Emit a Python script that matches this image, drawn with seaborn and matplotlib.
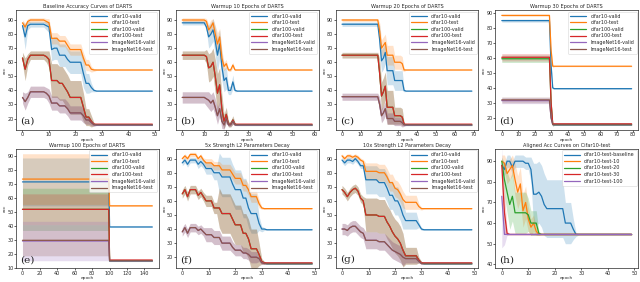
import numpy as np
import pandas as pd
import matplotlib
matplotlib.use("Agg")
import matplotlib.pyplot as plt
import seaborn as sns

# series names used in panels (a)-(g)
names = ["cifar10-valid", "cifar10-test", "cifar100-valid", "cifar100-test",
         "ImageNet16-valid", "ImageNet16-test"]
names_h = ["cifar10-test-baseline", "cifar10-test-10", "cifar10-test-20",
           "cifar10-test-30", "cifar10-test-100"]

# (a) baseline, 50 epochs
a_c10v = [86, 78, 86, 87, 87, 87, 87, 87, 87, 86, 85, 69, 70, 70, 65, 65, 65, 62, 60, 60, 60, 60, 60, 52, 45, 45, 42, 40] + [39.5] * 22
a_c10t = [88, 85, 89, 90, 90, 90, 90, 90, 90, 89, 88, 77, 77, 77, 75, 75, 75, 72, 69, 69, 69, 69, 69, 63, 58, 58, 55, 54.5] + [54.5] * 22
a_c100 = [63, 55, 62, 65, 65, 65, 65, 65, 65, 64, 62, 47, 47, 47, 45, 45, 42, 39, 35, 35, 35, 35, 35, 28, 21, 21, 18, 16]
a_c100v = a_c100 + [15.3] * 22
a_c100t = a_c100 + [16] * 22
a_img = [35, 32, 35, 39, 39, 39, 39, 39, 39, 38, 36, 31, 31, 31, 29, 29, 29, 27, 24, 24, 24, 24, 24, 22, 19, 19, 17, 15.5]
a_imgv = a_img + [15.3] * 22
a_imgt = a_img + [15.6] * 22
a_c10v_sd = [3, 9, 3] + [2] * 6 + [3, 4] + [8] * 12 + [10, 7, 7, 3, 1] + [0.3] * 22
a_c10t_sd = [2, 3, 2] + [1.5] * 6 + [2, 3] + [4] * 12 + [4, 4, 4, 2, 1] + [0.3] * 22
a_c100_sd = [4, 8, 4] + [3] * 6 + [4, 6] + [12] * 12 + [10, 6, 6, 4, 1] + [0.3] * 22
a_img_sd = [4, 6, 4] + [4] * 6 + [4, 5] + [5] * 12 + [5, 3, 3, 2, 1] + [0.3] * 22

# (b) warmup 10, 60 epochs
b_c10v = [88] * 11 + [85, 78, 80, 83, 75, 65, 73, 57, 47, 49, 40, 40, 46, 40] + [39.5] * 35
b_c10t = [90] * 11 + [89, 83, 85, 88, 80, 73, 78, 63, 57, 59, 54.5, 54.5, 58, 54.5] + [54.5] * 35
b_c100 = [65] * 11 + [64, 56, 57, 60, 50, 38, 44, 27, 18, 23, 16, 16, 19, 16]
b_c100v = b_c100 + [15.2] * 35
b_c100t = b_c100 + [16] * 35
b_img = [35] * 11 + [34, 33, 31, 33, 28, 22, 27, 18, 15.5, 20, 15.5, 15.5, 18, 15.5]
b_imgv = b_img + [15.3] * 35
b_imgt = b_img + [15.6] * 35
b_c10v_sd = [1.5] * 11 + [3, 8, 8, 8, 10, 12, 10, 10, 8, 8, 3, 3, 5, 1] + [0.3] * 35
b_c10t_sd = [1.5] * 11 + [2, 4, 5, 3, 6, 8, 6, 6, 3, 3, 1, 1, 2, 0.5] + [0.3] * 35
b_c100_sd = [3] * 11 + [5, 10, 10, 10, 12, 14, 12, 10, 5, 5, 2, 2, 3, 1] + [0.3] * 35
b_img_sd = [4] * 11 + [5, 6, 6, 6, 6, 6, 5, 5, 3, 3, 1, 1, 2, 0.5] + [0.3] * 35

# (c) warmup 20, 70 epochs
c_c10v = [87] * 20 + [76, 61, 63, 67, 54, 54, 54, 54, 47, 47, 47, 47, 47, 40] + [39.5] * 36
c_c10t = [90] * 20 + [82, 70, 72, 74, 65, 65, 65, 65, 60, 60, 60, 60, 59, 54.5] + [54.5] * 36
c_c100 = [65] * 20 + [52, 36, 39, 43, 28, 28, 28, 28, 22, 22, 22, 22, 21, 16]
c_c100v = c_c100 + [15.2] * 36
c_c100t = c_c100 + [16] * 36
c_img = [35.5] * 20 + [30, 22, 24, 27, 20, 20, 20, 20, 18, 18, 18, 18, 17, 15.5]
c_imgv = c_img + [15.3] * 36
c_imgt = c_img + [15.6] * 36
c_c10v_sd = [1.5] * 20 + [10, 8, 8, 8, 10, 10, 10, 10, 7, 7, 7, 7, 7, 1] + [0.3] * 36
c_c10t_sd = [1] * 20 + [6, 6, 6, 6, 7, 7, 7, 7, 5, 5, 5, 5, 5, 1] + [0.3] * 36
c_c100_sd = [2] * 20 + [10, 10, 10, 10, 12, 12, 12, 12, 6, 6, 6, 6, 6, 1] + [0.3] * 36
c_img_sd = [2.5] * 20 + [5, 5, 5, 5, 4, 4, 4, 4, 3, 3, 3, 3, 3, 1] + [0.3] * 36

# (d) warmup 30, 80 epochs
d_c10v = [85] * 30 + [55, 40] + [39.5] * 48
d_c10t = [88.5] * 30 + [65, 54.5] + [54.5] * 48
d_c100v = [59.5] * 30 + [30, 15.5] + [15.2] * 48
d_c100t = [60.5] * 30 + [30, 16] + [16] * 48
d_imgv = [31.5] * 30 + [20, 15.5] + [15.3] * 48
d_imgt = [32] * 30 + [20, 15.5] + [15.6] * 48
d_c10v_sd = [1] * 30 + [2, 1] + [0.3] * 48
d_c10t_sd = [0.6] * 30 + [2, 1] + [0.3] * 48
d_c100_sd = [2.5] * 30 + [3, 1] + [0.3] * 48
d_img_sd = [2] * 30 + [2, 1] + [0.3] * 48

# (e) warmup 100, 150 epochs
e_c10v = [71.5] * 100 + [39.5] * 50
e_c10t = [73.5] * 100 + [54.5] * 50
e_c100v = [52] * 100 + [15.2] * 50
e_c100t = [52] * 100 + [16] * 50
e_imgv = [29.5] * 100 + [15.3] * 50
e_imgt = [30] * 100 + [15.6] * 50
e_c10v_sd = [17] * 100 + [0.3] * 50
e_c10t_sd = [18] * 100 + [0.3] * 50
e_c100v_sd = [15] * 100 + [0.3] * 50
e_c100t_sd = [11] * 100 + [0.3] * 50
e_imgv_sd = [14] * 100 + [0.3] * 50
e_imgt_sd = [11] * 100 + [0.3] * 50

# (f) 5x L2, 50 epochs
f_c10v = [87, 89, 86, 89, 89, 89, 86, 88, 86, 83, 83, 83, 80, 80, 80, 77, 77, 77, 77, 72, 68, 68, 68, 62, 62, 55, 51, 51, 51, 44, 40, 40] + [39.5] * 18
f_c10t = [90, 92, 90, 93, 93, 93, 90, 92, 89, 87, 87, 87, 85, 85, 85, 82, 82, 82, 82, 79, 76, 76, 76, 71, 71, 68, 63, 63, 63, 58, 55, 54.5] + [54.5] * 18
f_c100 = [65, 68, 63, 68, 68, 68, 64, 66, 63, 60, 60, 60, 55, 55, 55, 51, 51, 51, 51, 47, 43, 43, 43, 37, 37, 33, 26, 26, 26, 22, 17, 16]
f_c100v = f_c100 + [15.2] * 18
f_c100t = f_c100 + [16] * 18
f_img = [38, 41, 37, 41, 41, 41, 39, 40, 38, 36, 36, 36, 34, 34, 34, 30, 30, 30, 30, 27, 25, 25, 25, 23, 23, 22, 20, 20, 20, 19, 16, 15.5]
f_imgv = f_img + [15.3] * 18
f_imgt = f_img + [15.6] * 18
f_c10v_sd = [2] * 6 + [3] * 3 + [4] * 3 + [5] * 2 + [14] * 15 + [5, 2, 1] + [0.3] * 18
f_c10t_sd = [1.5] * 9 + [3] * 6 + [4] * 14 + [3, 1, 0.5] + [0.3] * 18
f_c100_sd = [3] * 9 + [4] * 5 + [14] * 15 + [8, 2, 1] + [0.3] * 18
f_img_sd = [3] * 9 + [5] * 10 + [4] * 10 + [2, 1, 0.5] + [0.3] * 18

# (g) 10x L2, 50 epochs
g_c10v = [89, 87, 89, 89, 88, 90, 88, 85, 85, 75, 75, 75, 75, 75, 73, 73, 73, 69, 64, 64, 60, 60, 56, 50, 46, 46, 46, 46, 46, 43, 40] + [39.5] * 19
g_c10t = [92, 90, 92, 92, 91, 92, 91, 89, 88, 81, 81, 81, 81, 81, 80, 80, 80, 77, 73, 73, 69, 68, 65, 61, 59, 59, 59, 59, 59, 56, 54.5] + [54.5] * 19
g_c100 = [68, 66, 63, 66, 68, 69, 67, 62, 60, 50, 50, 50, 50, 50, 49, 49, 49, 45, 42, 38, 35, 33, 30, 25, 21, 21, 21, 21, 21, 18, 16]
g_c100v = g_c100 + [15.2] * 19
g_c100t = g_c100 + [16] * 19
g_img = [40, 40, 39, 41, 42, 42, 40, 38, 37, 32, 32, 32, 32, 32, 31, 31, 31, 29, 27, 25, 24, 23, 22, 20, 19, 19, 19, 19, 19, 17, 15.5]
g_imgv = g_img + [15.3] * 19
g_imgt = g_img + [15.6] * 19
g_c10v_sd = [2] * 9 + [10] * 15 + [6] * 5 + [2, 1] + [0.3] * 19
g_c10t_sd = [1.5] * 9 + [6] * 15 + [5] * 5 + [2, 1] + [0.3] * 19
g_c100_sd = [3] * 9 + [12] * 15 + [6] * 5 + [2, 1] + [0.3] * 19
g_img_sd = [4] * 9 + [6] * 15 + [3] * 5 + [1, 0.5] + [0.3] * 19

# (h) aligned cifar10-test, 50 epochs
h_base = [88, 86, 90, 90, 87, 90, 90, 90, 90, 89, 89, 86, 74, 74, 75, 73, 69, 67, 67, 67, 67, 67, 67, 67, 60, 60, 60, 57, 54.5] + [54.5] * 21
h_10 = [90, 89, 84, 86, 88, 81, 75, 79, 66, 70, 62, 58, 60, 56, 54.5] + [54.5] * 35
h_20 = [90, 81, 75, 69, 73, 65, 65, 65, 65, 65, 64, 60, 60, 60, 55] + [54.5] * 35
h_30 = [88, 65, 55] + [54.5] * 47
h_100 = [73, 54.5] + [54.5] * 48
h_base_sd = [3] * 11 + [6, 15, 15, 15, 15, 15, 14, 14, 14, 14, 14, 14, 14, 10, 10, 10, 5, 1] + [0.3] * 21
h_10_sd = [3, 4, 5, 5, 5, 8, 8, 8, 8, 8, 6, 4, 4, 2, 0.5] + [0.3] * 35
h_20_sd = [2, 8, 10, 12, 12, 10, 10, 10, 10, 10, 8, 6, 6, 6, 1] + [0.3] * 35
h_30_sd = [4, 10, 1] + [0.3] * 47
h_100_sd = [25, 5] + [0.3] * 48

sns.set_style("ticks")
plt.rcParams.update({
    "axes.linewidth": 0.5, "xtick.major.size": 1.2, "ytick.major.size": 1.2,
    "xtick.major.width": 0.5, "ytick.major.width": 0.5,
    "xtick.labelsize": 3.5, "ytick.labelsize": 3.5,
    "xtick.major.pad": 0.6, "ytick.major.pad": 0.6,
})
colors = sns.color_palette("tab10")


def draw(ax, series, labels, title, letter, xmax, xstep, ylim=None, yticks=None):
    for i, (mean, sd) in enumerate(series):
        mean = np.array(mean, dtype=float)
        sd = np.array(sd, dtype=float)
        ep = np.arange(len(mean))
        sns.lineplot(x=ep, y=mean, ax=ax, color=colors[i], lw=0.9, label=labels[i])
        ax.fill_between(ep, mean - sd, mean + sd, color=colors[i], alpha=0.22, lw=0)
    ax.set_title(title, fontsize=3.6, pad=1.2)
    ax.set_xlabel("epoch", fontsize=3.2, labelpad=0.3)
    ax.set_ylabel("acc", fontsize=3.2, labelpad=0.3)
    ax.set_xticks(np.arange(0, xmax + 1, xstep))
    if ylim:
        ax.set_ylim(*ylim)
    if yticks is not None:
        ax.set_yticks(yticks)
    ax.legend(loc="upper right", fontsize=3.5, handlelength=3.3, borderpad=0.4,
              labelspacing=0.33, handletextpad=0.9, frameon=True, framealpha=0.8,
              edgecolor="#cccccc", fancybox=True, borderaxespad=0.3).get_frame().set_linewidth(0.4)
    ax.text(0.03, 0.05, letter, transform=ax.transAxes, family="DejaVu Serif",
            fontsize=7.5)


fig, axes = plt.subplots(2, 4, figsize=(6.4, 2.82), dpi=100)
plt.subplots_adjust(left=0.025, right=0.997, top=0.964, bottom=0.048, wspace=0.119, hspace=0.159)

yt = [20, 30, 40, 50, 60, 70, 80, 90]
draw(axes[0, 0], [(a_c10v, a_c10v_sd), (a_c10t, a_c10t_sd), (a_c100v, a_c100_sd),
                  (a_c100t, a_c100_sd), (a_imgv, a_img_sd), (a_imgt, a_img_sd)],
     names, "Baseline Accuracy Curves of DARTS", "(a)", 50, 10, (12, 97), yt)
draw(axes[0, 1], [(b_c10v, b_c10v_sd), (b_c10t, b_c10t_sd), (b_c100v, b_c100_sd),
                  (b_c100t, b_c100_sd), (b_imgv, b_img_sd), (b_imgt, b_img_sd)],
     names, "Warmup 10 Epochs of DARTS", "(b)", 60, 10, (12, 97), yt)
draw(axes[0, 2], [(c_c10v, c_c10v_sd), (c_c10t, c_c10t_sd), (c_c100v, c_c100_sd),
                  (c_c100t, c_c100_sd), (c_imgv, c_img_sd), (c_imgt, c_img_sd)],
     names, "Warmup 20 Epochs of DARTS", "(c)", 70, 10, (12, 97), yt)
draw(axes[0, 3], [(d_c10v, d_c10v_sd), (d_c10t, d_c10t_sd), (d_c100v, d_c100_sd),
                  (d_c100t, d_c100_sd), (d_imgv, d_img_sd), (d_imgt, d_img_sd)],
     names, "Warmup 30 Epochs of DARTS", "(d)", 80, 10, (12, 92), yt)
draw(axes[1, 0], [(e_c10v, e_c10v_sd), (e_c10t, e_c10t_sd), (e_c100v, e_c100v_sd),
                  (e_c100t, e_c100t_sd), (e_imgv, e_imgv_sd), (e_imgt, e_imgt_sd)],
     names, "Warmup 100 Epochs of DARTS", "(e)", 140, 20, (11, 95), [10] + yt)
draw(axes[1, 1], [(f_c10v, f_c10v_sd), (f_c10t, f_c10t_sd), (f_c100v, f_c100_sd),
                  (f_c100t, f_c100_sd), (f_imgv, f_img_sd), (f_imgt, f_img_sd)],
     names, "5x Strength L2 Parameters Decay", "(f)", 50, 10, (12, 97), yt)
draw(axes[1, 2], [(g_c10v, g_c10v_sd), (g_c10t, g_c10t_sd), (g_c100v, g_c100_sd),
                  (g_c100t, g_c100_sd), (g_imgv, g_img_sd), (g_imgt, g_img_sd)],
     names, "10x Strength L2 Parameters Decay", "(g)", 50, 10, (12, 97), yt)
draw(axes[1, 3], [(h_base, h_base_sd), (h_10, h_10_sd), (h_20, h_20_sd),
                  (h_30, h_30_sd), (h_100, h_100_sd)],
     names_h, "Aligned Acc Curves on Cifar10-test", "(h)", 50, 10, (38, 96), [40, 50, 60, 70, 80, 90])

plt.savefig("out.png", dpi=100)
